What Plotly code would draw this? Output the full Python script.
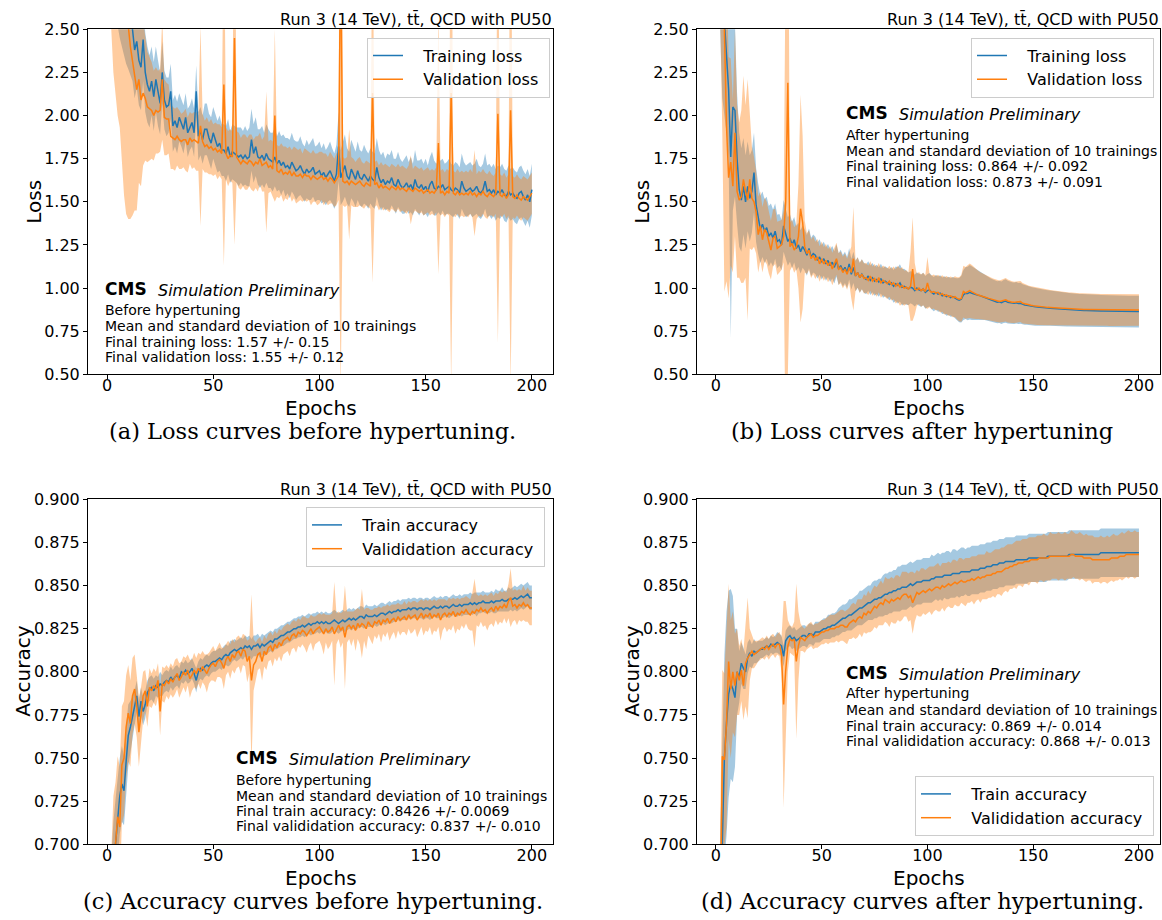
import plotly.graph_objects as go

W, H = 1162, 920
EPOCHS = list(range(1, 201))

# ---------------- (a) loss before hypertuning, units of 0.01 ----------------
A_TRAIN_MEAN = [
    420, 370, 340, 318, 302, 290, 282, 275, 268, 262,
    255, 250, 238, 243, 232, 228, 244, 225, 218, 214,
    220, 211, 221, 213, 207, 225, 209, 205, 206, 214,
    194, 197, 193, 199, 196, 192, 199, 190, 193, 196,
    190, 214, 188, 191, 186, 192, 192, 187, 184, 190,
    186, 182, 184, 180, 180, 178, 182, 176, 179, 178,
    177, 176, 177, 175, 177, 175, 176, 186, 178, 182,
    176, 175, 177, 174, 178, 175, 174, 173, 176, 172,
    174, 171, 173, 170, 171, 169, 173, 170, 168, 169,
    171, 168, 166, 169, 167, 168, 170, 166, 167, 168,
    165, 167, 164, 166, 168, 165, 162, 166, 182, 164,
    167, 171, 165, 163, 169, 166, 163, 168, 164, 163,
    166, 164, 162, 165, 163, 162, 170, 164, 161, 163,
    160, 162, 161, 164, 160, 159, 163, 160, 158, 159,
    161, 158, 160, 157, 163, 159, 158, 160, 157, 159,
    156, 160, 162, 158, 157, 159, 158, 160, 157, 158,
    159, 157, 156, 158, 157, 155, 162, 158, 156, 157,
    158, 156, 157, 159, 156, 155, 157, 162, 156, 157,
    155, 157, 154, 156, 155, 157, 154, 153, 156, 154,
    155, 153, 152, 155, 156, 153, 151, 154, 150, 157,
]
A_TRAIN_STD = [
    80, 70, 60, 55, 50, 45, 42, 40, 38, 35,
    32, 30, 28, 27, 26, 25, 24, 23, 22, 21,
    20, 20, 19, 19, 18, 18, 17, 17, 16, 16,
    15, 15, 15, 14, 14, 14, 14, 14, 13, 14,
    14, 15, 14, 14, 14, 15, 15, 14, 15, 15,
    15, 15, 16, 15, 15, 16, 16, 15, 16, 16,
    16, 17, 16, 16, 17, 16, 17, 18, 17, 17,
    16, 17, 17, 16, 17, 17, 16, 17, 17, 16,
    17, 17, 16, 17, 16, 17, 17, 16, 17, 16,
    17, 16, 16, 17, 16, 17, 17, 16, 16, 17,
    16, 17, 16, 16, 17, 16, 16, 17, 20, 16,
    17, 18, 16, 16, 17, 16, 16, 17, 16, 16,
    17, 16, 16, 16, 16, 16, 17, 16, 16, 16,
    15, 16, 16, 16, 15, 16, 16, 15, 15, 16,
    16, 15, 16, 15, 17, 15, 16, 15, 15, 16,
    15, 16, 17, 16, 15, 15, 16, 15, 15, 15,
    16, 15, 15, 15, 15, 15, 16, 15, 15, 15,
    15, 15, 15, 16, 15, 15, 15, 16, 15, 15,
    15, 15, 15, 15, 15, 15, 15, 15, 15, 15,
    15, 15, 15, 15, 15, 15, 15, 15, 15, 15,
]
A_VAL_MEAN = [
    400, 350, 320, 300, 288, 278, 270, 264, 258, 252,
    240, 232, 225, 215, 221, 209, 213, 210, 205, 204,
    203, 200, 203, 202, 203, 221, 199, 198, 198, 188,
    187, 186, 188, 186, 185, 186, 186, 183, 187, 185,
    186, 185, 184, 194, 185, 182, 183, 181, 182, 180,
    181, 179, 180, 178, 218, 178, 175, 177, 176, 245,
    176, 174, 172, 174, 173, 172, 174, 173, 171, 173,
    172, 175, 171, 172, 173, 170, 171, 169, 200, 168,
    167, 169, 166, 167, 166, 168, 165, 167, 165, 165,
    166, 164, 166, 165, 165, 163, 165, 164, 163, 164,
    165, 163, 164, 162, 164, 163, 161, 163, 165, 300,
    162, 161, 162, 160, 162, 161, 160, 161, 162, 160,
    159, 161, 160, 159, 213, 160, 161, 158, 160, 158,
    159, 158, 157, 159, 158, 157, 159, 157, 158, 157,
    156, 158, 157, 156, 158, 157, 156, 157, 155, 156,
    157, 155, 156, 155, 157, 184, 155, 156, 154, 156,
    155, 213, 155, 154, 156, 154, 155, 154, 155, 154,
    156, 154, 155, 153, 155, 154, 156, 154, 153, 155,
    154, 153, 155, 201, 154, 153, 155, 152, 154, 203,
    153, 152, 154, 152, 151, 153, 152, 151, 153, 155,
]
A_VAL_STD = [
    110, 100, 95, 90, 88, 85, 100, 110, 115, 112,
    100, 90, 80, 70, 60, 50, 42, 36, 32, 30,
    28, 26, 25, 24, 24, 35, 22, 21, 20, 19,
    18, 18, 17, 17, 16, 16, 18, 16, 15, 16,
    16, 17, 16, 58, 16, 15, 16, 15, 16, 15,
    15, 16, 15, 15, 105, 15, 16, 15, 15, 120,
    15, 16, 15, 15, 16, 15, 15, 16, 15, 15,
    16, 15, 15, 16, 41, 15, 15, 16, 50, 15,
    15, 15, 16, 15, 15, 14, 15, 15, 16, 15,
    15, 14, 15, 15, 14, 15, 15, 14, 15, 15,
    14, 15, 14, 14, 15, 14, 14, 15, 14, 260,
    14, 14, 14, 32, 14, 14, 13, 14, 14, 13,
    13, 13, 13, 13, 110, 13, 13, 13, 13, 13,
    13, 13, 13, 13, 13, 13, 13, 13, 13, 13,
    13, 13, 20, 13, 13, 13, 13, 13, 13, 13,
    13, 13, 13, 13, 13, 76, 13, 13, 13, 13,
    13, 170, 13, 13, 13, 13, 13, 13, 13, 13,
    13, 13, 25, 13, 13, 13, 13, 13, 13, 13,
    12, 12, 12, 133, 12, 12, 12, 12, 12, 160,
    12, 12, 12, 12, 12, 12, 12, 12, 12, 12,
]

# ---------------- (b) loss after hypertuning, units of 0.001 ----------------
B_TRAIN_MEAN = [
    5000, 3500, 2800, 2550, 2350, 2150, 1760, 2050, 2030, 1750,
    1570, 1510, 1590, 1500, 1590, 1520, 1560, 1670, 1480, 1400,
    1340, 1370, 1330, 1350, 1300, 1320, 1290, 1330, 1270, 1280,
    1250, 1360, 1310, 1270, 1290, 1250, 1280, 1230, 1250, 1210,
    1240, 1220, 1190, 1230, 1180, 1200, 1190, 1160, 1180, 1150,
    1170, 1140, 1160, 1130, 1150, 1120, 1160, 1110, 1130, 1100,
    1120, 1090, 1140, 1080, 1120, 1070, 1090, 1060, 1080, 1060,
    1050, 1070, 1045, 1060, 1040, 1050, 1035, 1055, 1030, 1040,
    1030, 1020, 1030, 1010, 1025, 1015, 1030, 1005, 1010, 1000,
    995, 1005, 1000, 985, 1000, 990, 985, 995, 975, 985,
    990, 975, 965, 975, 965, 970, 955, 960, 950, 955,
    945, 950, 940, 935, 930, 935, 960, 970, 968, 975,
    970, 965, 962, 958, 955, 950, 945, 940, 935, 930,
    925, 922, 918, 920, 915, 922, 925, 918, 915, 912,
    912, 915, 910, 912, 905, 902, 900, 897, 895, 893,
    891, 890, 888, 887, 886, 885, 884, 883, 882, 881,
    880, 879, 878, 877, 876, 875, 874, 873, 872, 872,
    871, 871, 870, 870, 870, 869, 869, 869, 868, 868,
    868, 867, 867, 867, 866, 866, 866, 865, 865, 865,
    865, 864, 864, 864, 864, 863, 863, 863, 864, 864,
]
B_TRAIN_STD = [
    1500, 1000, 700, 550, 450, 400, 1050, 600, 500, 380,
    330, 300, 280, 270, 260, 250, 240, 230, 215, 205,
    195, 190, 185, 180, 175, 170, 165, 160, 155, 150,
    145, 150, 145, 140, 138, 135, 132, 130, 128, 125,
    122, 120, 118, 115, 112, 110, 108, 105, 103, 100,
    98, 97, 96, 95, 94, 93, 93, 92, 92, 91,
    91, 90, 90, 89, 90, 88, 88, 87, 87, 87,
    86, 86, 86, 85, 85, 85, 85, 86, 86, 87,
    88, 90, 92, 95, 100, 105, 108, 106, 102, 98,
    95, 93, 95, 92, 92, 93, 94, 94, 95, 96,
    97, 98, 99, 100, 102, 104, 106, 108, 110, 111,
    112, 114, 118, 122, 128, 135, 145, 150, 155, 158,
    155, 150, 145, 140, 136, 132, 130, 128, 126, 125,
    124, 123, 122, 122, 123, 125, 126, 124, 122, 121,
    120, 120, 119, 119, 117, 115, 113, 112, 111, 110,
    109, 108, 107, 106, 105, 104, 103, 102, 102, 101,
    100, 100, 99, 99, 98, 98, 97, 97, 96, 96,
    96, 95, 95, 95, 95, 94, 94, 94, 94, 94,
    93, 93, 93, 93, 93, 93, 93, 93, 93, 92,
    92, 92, 92, 92, 92, 92, 92, 92, 92, 92,
]
B_VAL_MEAN = [
    5500, 3800, 2900, 2500, 1940, 1640, 1730, 1590, 1900, 1560,
    1510, 1530, 1630, 1560, 1510, 1630, 1520, 1500, 1440, 1310,
    1360, 1280, 1340, 1320, 1260, 1220, 1290, 1300, 1230, 1240,
    1250, 1300, 1500, 2190, 1240, 1260, 1220, 1240, 1300, 1460,
    1380, 1240, 1200, 1220, 1170, 1190, 1160, 1180, 1140, 1170,
    1140, 1160, 1130, 1150, 1110, 1140, 1170, 1110, 1120, 1090,
    1110, 1080, 1120, 1090, 1170, 1070, 1090, 1060, 1080, 1055,
    1060, 1045, 1070, 1040, 1055, 1035, 1060, 1030, 1045, 1035,
    1025, 1040, 1020, 1030, 1010, 1025, 1005, 1015, 1000, 1005,
    995, 1010, 1110, 995, 990, 1000, 985, 995, 980, 1030,
    985, 975, 980, 970, 975, 962, 968, 955, 960, 950,
    955, 945, 950, 940, 935, 940, 980, 972, 978, 985,
    978, 970, 965, 960, 955, 952, 948, 944, 940, 936,
    932, 928, 925, 922, 925, 930, 932, 925, 920, 918,
    917, 918, 920, 922, 912, 908, 905, 902, 900, 898,
    896, 894, 892, 891, 890, 889, 888, 887, 886, 885,
    884, 883, 882, 881, 880, 879, 878, 878, 877, 877,
    876, 876, 876, 875, 875, 875, 874, 874, 874, 874,
    873, 873, 873, 873, 873, 872, 872, 872, 872, 872,
    872, 872, 873, 873, 873, 873, 873, 873, 873, 873,
]
B_VAL_STD = [
    1600, 1200, 1000, 1520, 900, 700, 600, 500, 600, 500,
    450, 500, 600, 500, 700, 400, 300, 260, 240, 220,
    200, 190, 185, 180, 175, 170, 165, 160, 155, 150,
    145, 150, 1500, 1700, 140, 135, 132, 130, 300, 660,
    500, 150, 118, 115, 112, 110, 108, 105, 103, 100,
    98, 97, 96, 95, 94, 93, 93, 92, 92, 91,
    91, 90, 90, 150, 300, 88, 88, 87, 87, 87,
    86, 86, 86, 85, 85, 85, 85, 86, 86, 87,
    88, 90, 92, 95, 100, 105, 108, 106, 102, 98,
    95, 200, 300, 150, 92, 93, 94, 94, 95, 150,
    97, 98, 99, 100, 102, 104, 106, 108, 110, 111,
    112, 114, 118, 122, 128, 135, 150, 150, 155, 158,
    155, 150, 145, 140, 136, 132, 130, 128, 126, 125,
    124, 123, 122, 122, 123, 125, 126, 124, 122, 121,
    120, 120, 119, 119, 117, 115, 113, 112, 111, 110,
    109, 108, 107, 106, 105, 104, 103, 102, 101, 100,
    99, 99, 98, 98, 97, 97, 96, 96, 95, 95,
    95, 94, 94, 94, 94, 93, 93, 93, 93, 93,
    92, 92, 92, 92, 92, 92, 92, 92, 92, 91,
    91, 91, 91, 91, 91, 91, 91, 91, 91, 91,
]

# ---------------- (c) accuracy before hypertuning, units of 0.001 ----------------
C_TRAIN_MEAN = [
    640, 665, 685, 700, 715, 728, 735, 731, 748, 763,
    768, 774, 779, 786, 774, 783, 777, 781, 788, 790,
    791, 789, 792, 791, 793, 792, 794, 795, 794, 797,
    795, 797, 798, 796, 800, 799, 801, 799, 800, 802,
    799, 795, 800, 802, 801, 803, 804, 803, 805, 806,
    806, 807, 808, 807, 809, 810, 809, 811, 812, 813,
    812, 813, 814, 813, 815, 814, 815, 813, 815, 815,
    816, 814, 816, 815, 816, 817, 818, 817, 819, 819,
    820, 821, 821, 822, 823, 823, 824, 825, 825, 826,
    826, 827, 826, 827, 828, 827, 828, 828, 829, 828,
    829, 828, 829, 828, 828, 829, 830, 829, 828, 829,
    830, 829, 830, 831, 830, 831, 830, 831, 832, 832,
    831, 833, 832, 832, 832, 833, 832, 833, 834, 834,
    833, 834, 835, 834, 835, 835, 836, 835, 836, 836,
    836, 837, 836, 837, 837, 836, 837, 837, 836, 837,
    837, 836, 837, 838, 837, 837, 838, 837, 838, 838,
    837, 838, 839, 838, 838, 839, 838, 839, 839, 839,
    840, 839, 840, 839, 840, 840, 841, 840, 840, 840,
    841, 840, 841, 841, 841, 842, 841, 841, 842, 842,
    842, 843, 842, 843, 844, 843, 844, 845, 843, 843,
]
C_TRAIN_STD = [
    30, 30, 28, 26, 24, 22, 22, 20, 20, 18,
    15, 12, 10, 9, 9, 8, 8, 8, 7, 7,
    7, 7, 6, 6, 7, 6, 6, 6, 6, 6,
    6, 6, 6, 6, 6, 6, 6, 6, 6, 6,
    6, 7, 6, 6, 6, 6, 6, 6, 6, 6,
    6, 6, 6, 6, 6, 6, 6, 7, 6, 6,
    6, 6, 6, 6, 6, 6, 6, 6, 6, 6,
    6, 6, 6, 6, 6, 6, 6, 6, 6, 6,
    6, 6, 6, 6, 6, 6, 6, 6, 6, 6,
    6, 6, 6, 6, 6, 6, 6, 6, 6, 6,
    6, 6, 6, 6, 6, 6, 6, 6, 6, 6,
    6, 6, 6, 6, 6, 6, 6, 6, 6, 6,
    6, 6, 6, 6, 6, 6, 6, 6, 6, 6,
    6, 6, 6, 6, 6, 6, 6, 6, 6, 6,
    6, 6, 6, 6, 6, 6, 6, 6, 6, 6,
    6, 6, 6, 6, 6, 6, 6, 6, 6, 6,
    6, 6, 6, 6, 6, 6, 6, 6, 6, 6,
    6, 6, 6, 7, 6, 6, 6, 6, 6, 6,
    6, 6, 7, 6, 6, 7, 6, 6, 7, 6,
    7, 7, 7, 7, 7, 7, 7, 7, 7, 7,
]
C_VAL_MEAN = [
    620, 660, 690, 700, 716, 710, 746, 750, 768, 776,
    770, 786, 790, 780, 765, 775, 786, 789, 780, 791,
    789, 792, 790, 795, 777, 793, 792, 795, 793, 796,
    794, 797, 799, 795, 797, 800, 798, 801, 796, 798,
    801, 799, 802, 800, 803, 801, 799, 802, 804, 805,
    803, 806, 807, 805, 802, 807, 809, 806, 810, 808,
    811, 812, 809, 813, 812, 806, 809, 795, 804, 806,
    810, 811, 806, 812, 810, 814, 815, 812, 816, 814,
    817, 815, 818, 819, 820, 818, 821, 822, 820, 823,
    822, 824, 823, 821, 823, 825, 822, 824, 825, 826,
    824, 822, 825, 823, 824, 826, 822, 825, 827, 824,
    826, 820, 826, 827, 825, 827, 824, 828, 826, 828,
    827, 825, 829, 827, 826, 829, 828, 830, 827, 830,
    829, 831, 828, 830, 831, 829, 832, 830, 831, 832,
    830, 833, 831, 832, 833, 830, 832, 834, 831, 833,
    832, 834, 831, 833, 832, 834, 830, 833, 834, 832,
    834, 833, 835, 832, 834, 833, 835, 834, 836, 834,
    833, 835, 834, 836, 835, 837, 835, 836, 834, 836,
    837, 835, 838, 836, 838, 837, 839, 837, 841, 843,
    838, 839, 837, 839, 838, 840, 838, 839, 837, 837,
]
C_VAL_STD = [
    40, 40, 38, 36, 35, 35, 34, 33, 30, 28,
    25, 22, 20, 18, 20, 16, 14, 12, 12, 11,
    10, 10, 10, 10, 14, 10, 10, 9, 9, 9,
    9, 10, 9, 10, 9, 9, 10, 9, 11, 9,
    10, 9, 9, 10, 9, 9, 11, 9, 9, 10,
    9, 9, 10, 9, 12, 9, 9, 10, 9, 9,
    9, 9, 10, 9, 9, 12, 10, 50, 15, 11,
    9, 9, 11, 9, 9, 8, 8, 9, 8, 8,
    8, 9, 8, 8, 8, 9, 8, 8, 9, 8,
    8, 8, 9, 10, 8, 8, 10, 8, 8, 8,
    9, 12, 8, 10, 9, 8, 30, 9, 8, 10,
    9, 30, 9, 8, 10, 8, 12, 9, 10, 20,
    9, 12, 8, 9, 10, 8, 9, 8, 10, 8,
    9, 8, 10, 9, 8, 10, 8, 9, 8, 9,
    9, 8, 9, 9, 8, 10, 9, 8, 10, 9,
    9, 8, 10, 9, 9, 8, 12, 9, 8, 9,
    9, 9, 8, 10, 9, 9, 8, 9, 8, 9,
    9, 11, 20, 9, 9, 8, 9, 9, 10, 9,
    9, 9, 8, 9, 9, 9, 8, 9, 10, 17,
    9, 9, 10, 9, 9, 10, 9, 10, 10, 10,
]

# ---------------- (d) accuracy after hypertuning, units of 0.001 ----------------
D_TRAIN_MEAN = [
    600, 650, 700, 750, 770, 787, 793, 790, 785, 800,
    797, 805, 802, 800, 808, 811, 809, 812, 811, 812,
    813, 813, 814, 815, 814, 816, 815, 816, 817, 816,
    815, 809, 818, 820, 821, 819, 820, 818, 819, 820,
    821, 821, 820, 822, 822, 821, 823, 823, 823, 824,
    825, 825, 826, 826, 827, 827, 828, 829, 830, 831,
    831, 832, 833, 833, 834, 835, 836, 837, 837, 838,
    839, 840, 840, 841, 842, 842, 843, 843, 844, 845,
    845, 846, 846, 847, 847, 848, 848, 849, 849, 849,
    850, 851, 850, 851, 852, 852, 852, 853, 853, 853,
    853, 854, 854, 855, 855, 855, 855, 856, 856, 856,
    856, 857, 857, 857, 857, 858, 858, 858, 858, 858,
    859, 859, 859, 859, 860, 860, 860, 861, 861, 861,
    862, 862, 862, 863, 863, 863, 864, 864, 864, 864,
    864, 865, 865, 865, 865, 865, 865, 866, 866, 866,
    866, 866, 866, 866, 866, 866, 867, 867, 867, 867,
    867, 867, 867, 867, 867, 867, 868, 868, 868, 868,
    868, 868, 868, 868, 868, 868, 868, 868, 868, 868,
    868, 869, 869, 869, 869, 869, 869, 869, 869, 869,
    869, 869, 869, 869, 869, 869, 869, 869, 869, 869,
]
D_TRAIN_STD = [
    50, 50, 55, 60, 65, 60, 55, 54, 40, 25,
    15, 12, 12, 10, 9, 8, 7, 7, 6, 6,
    5, 5, 5, 5, 5, 5, 5, 5, 6, 6,
    6, 6, 6, 6, 6, 6, 6, 6, 6, 6,
    6, 6, 6, 6, 6, 6, 6, 6, 6, 6,
    6, 6, 7, 7, 7, 7, 7, 8, 8, 8,
    8, 8, 9, 9, 9, 9, 9, 10, 10, 10,
    10, 10, 10, 11, 11, 11, 11, 11, 12, 12,
    12, 12, 12, 12, 12, 13, 13, 13, 13, 13,
    13, 13, 13, 13, 13, 13, 13, 13, 13, 13,
    13, 14, 13, 13, 14, 13, 14, 13, 14, 14,
    13, 14, 14, 13, 14, 14, 14, 13, 14, 14,
    14, 14, 14, 14, 14, 14, 14, 14, 14, 14,
    14, 14, 14, 14, 14, 14, 14, 14, 14, 14,
    14, 14, 14, 14, 14, 14, 14, 14, 14, 14,
    14, 14, 14, 14, 14, 14, 14, 14, 14, 14,
    14, 14, 14, 14, 14, 14, 14, 14, 14, 14,
    14, 14, 14, 14, 14, 14, 14, 14, 14, 14,
    14, 14, 14, 14, 14, 14, 14, 14, 14, 14,
    14, 14, 14, 14, 14, 14, 14, 14, 14, 14,
]
D_VAL_MEAN = [
    560, 640, 751, 749, 770, 806, 790, 800, 792, 800,
    795, 801, 792, 805, 808, 810, 812, 810, 811, 812,
    813, 814, 813, 815, 813, 815, 816, 814, 816, 816,
    810, 781, 801, 815, 819, 818, 819, 806, 815, 820,
    819, 818, 820, 821, 822, 820, 821, 821, 822, 823,
    823, 824, 824, 825, 825, 825, 826, 826, 827, 827,
    826, 826, 828, 829, 830, 829, 831, 832, 831, 834,
    833, 835, 834, 836, 838, 837, 839, 840, 839, 842,
    841, 840, 842, 841, 842, 843, 842, 844, 845, 845,
    843, 844, 840, 843, 846, 845, 846, 847, 846, 847,
    848, 847, 848, 849, 849, 848, 850, 849, 850, 851,
    850, 851, 852, 851, 852, 853, 852, 852, 853, 853,
    854, 853, 854, 855, 854, 855, 855, 856, 856, 856,
    857, 857, 858, 858, 858, 859, 860, 860, 861, 861,
    862, 862, 863, 863, 863, 864, 864, 864, 865, 865,
    865, 865, 866, 866, 866, 866, 866, 867, 867, 867,
    867, 867, 867, 867, 867, 867, 867, 868, 868, 867,
    867, 867, 867, 866, 866, 866, 866, 865, 865, 865,
    865, 865, 865, 865, 865, 865, 866, 866, 866, 866,
    867, 867, 867, 868, 868, 868, 868, 868, 868, 868,
]
D_VAL_STD = [
    60, 60, 50, 50, 60, 45, 40, 35, 30, 25,
    20, 18, 20, 25, 35, 15, 10, 8, 7, 6,
    6, 6, 6, 6, 6, 6, 6, 6, 6, 7,
    10, 60, 40, 15, 8, 8, 10, 45, 20, 8,
    7, 7, 7, 7, 7, 7, 7, 7, 7, 7,
    7, 7, 8, 8, 8, 8, 8, 9, 9, 9,
    9, 10, 9, 10, 10, 10, 11, 10, 11, 11,
    11, 12, 11, 12, 12, 12, 12, 13, 12, 13,
    13, 14, 13, 13, 14, 13, 13, 14, 13, 13,
    14, 14, 18, 14, 13, 13, 14, 13, 13, 13,
    13, 14, 13, 13, 14, 13, 13, 14, 13, 13,
    13, 14, 13, 13, 14, 13, 13, 14, 13, 13,
    13, 14, 13, 13, 14, 13, 13, 14, 13, 13,
    13, 14, 13, 13, 14, 13, 13, 14, 13, 13,
    13, 14, 13, 13, 14, 13, 13, 14, 13, 13,
    13, 14, 13, 13, 14, 13, 13, 14, 13, 13,
    13, 14, 13, 13, 14, 13, 13, 14, 13, 13,
    13, 14, 13, 13, 14, 13, 13, 14, 13, 13,
    13, 14, 13, 13, 14, 13, 13, 14, 13, 13,
    13, 14, 13, 13, 14, 13, 13, 14, 13, 13,
]

LOSS_TICKS = [0.5, 0.75, 1.0, 1.25, 1.5, 1.75, 2.0, 2.25, 2.5]
ACC_TICKS = [0.7, 0.725, 0.75, 0.775, 0.8, 0.825, 0.85, 0.875, 0.9]
EPOCH_TICKS = [0, 50, 100, 150, 200]
TOP_LABEL = "Run 3 (14 TeV), tt\u0304, QCD with PU50"
INFO_MID = "Mean and standard deviation of 10 trainings"

SANS = "DejaVu Sans"
SERIF = "DejaVu Serif"
BLUE = "#1f77b4"
ORANGE = "#ff7f0e"
BLUE_FILL = "rgba(31,119,180,0.4)"
ORANGE_FILL = "rgba(255,127,14,0.4)"
NB = "\u00a0"

panels = [
    dict(tm=A_TRAIN_MEAN, ts=A_TRAIN_STD, vm=A_VAL_MEAN, vs=A_VAL_STD, scale=0.01,
         box=(88, 553, 29.3, 374.3), yr=[0.5, 2.5], yt=LOSS_TICKS, fmt=".2f",
         ylabel="Loss", ylab_x=34, names=("Training loss", "Validation loss"),
         leg=dict(x=550, y=37.5, yanchor="top"),
         cms=(104, 289), info_y=[310, 326, 342, 357],
         info=["Before hypertuning", INFO_MID,
               "Final training loss: 1.57 +/- 0.15", "Final validation loss: 1.55 +/- 0.12"],
         caption=("(a) Loss curves before hypertuning.", 312, 431)),
    dict(tm=B_TRAIN_MEAN, ts=B_TRAIN_STD, vm=B_VAL_MEAN, vs=B_VAL_STD, scale=0.001,
         box=(697, 1160, 29.3, 374.3), yr=[0.5, 2.5], yt=LOSS_TICKS, fmt=".2f",
         ylabel="Loss", ylab_x=642, names=("Training loss", "Validation loss"),
         leg=dict(x=1154, y=37.5, yanchor="top"),
         cms=(845, 113), info_y=[135, 151, 166, 182],
         info=["After hypertuning", INFO_MID,
               "Final training loss: 0.864 +/- 0.092", "Final validation loss: 0.873 +/- 0.091"],
         caption=("(b) Loss curves after hypertuning", 922, 431)),
    dict(tm=C_TRAIN_MEAN, ts=C_TRAIN_STD, vm=C_VAL_MEAN, vs=C_VAL_STD, scale=0.001,
         box=(88, 553, 499.3, 844.3), yr=[0.7, 0.9], yt=ACC_TICKS, fmt=".3f",
         ylabel="Accuracy", ylab_x=23, names=("Train accuracy", "Valididation accuracy"),
         leg=dict(x=545, y=507, yanchor="top"),
         cms=(235, 758), info_y=[780, 796, 811, 826],
         info=["Before hypertuning", INFO_MID,
               "Final train accuracy: 0.8426 +/- 0.0069", "Final valididation accuracy: 0.837 +/- 0.010"],
         caption=("(c) Accuracy curves before hypertuning.", 313, 901)),
    dict(tm=D_TRAIN_MEAN, ts=D_TRAIN_STD, vm=D_VAL_MEAN, vs=D_VAL_STD, scale=0.001,
         box=(697, 1160, 499.3, 844.3), yr=[0.7, 0.9], yt=ACC_TICKS, fmt=".3f",
         ylabel="Accuracy", ylab_x=632, names=("Train accuracy", "Valididation accuracy"),
         leg=dict(x=1154, y=836, yanchor="bottom"),
         cms=(845, 673), info_y=[693, 710, 726, 741],
         info=["After hypertuning", INFO_MID,
               "Final train accuracy: 0.869 +/- 0.014", "Final valididation accuracy: 0.868 +/- 0.013"],
         caption=("(d) Accuracy curves after hypertuning.", 922, 901)),
]

for p in panels:
    for k in ("tm", "ts", "vm", "vs"):
        if len(p[k]) != len(EPOCHS):
            raise ValueError(f"{p['caption'][0]} {k} has {len(p[k])} values")


def fx(x):
    return x / W


def fy(y):
    return 1 - y / H


def ann(x, y, text, size, family=SANS, xanchor="left", yanchor="middle", angle=0):
    return dict(x=fx(x), y=fy(y), xref="paper", yref="paper", text=text, showarrow=False,
                xanchor=xanchor, yanchor=yanchor, textangle=angle, borderpad=0,
                font=dict(family=family, size=size, color="black"))


fig = go.Figure()
layout = dict(width=W, height=H, autosize=False, margin=dict(l=0, r=0, t=0, b=0, pad=0),
              paper_bgcolor="white", plot_bgcolor="white",
              font=dict(family=SANS, size=16, color="black"), showlegend=True)
annotations = []

for i, p in enumerate(panels):
    n = "" if i == 0 else str(i + 1)
    xa, ya = "x" + n, "y" + n
    leg = "legend" + n
    s = p["scale"]
    tm = [v * s for v in p["tm"]]
    ts = [v * s for v in p["ts"]]
    vm = [v * s for v in p["vm"]]
    vs = [v * s for v in p["vs"]]

    for mean, std, fill in ((tm, ts, BLUE_FILL), (vm, vs, ORANGE_FILL)):
        up = [m + d for m, d in zip(mean, std)]
        lo = [m - d for m, d in zip(mean, std)]
        fig.add_trace(go.Scatter(x=EPOCHS, y=up, mode="lines", line=dict(width=0),
                                 showlegend=False, hoverinfo="skip", xaxis=xa, yaxis=ya,
                                 legend=leg))
        fig.add_trace(go.Scatter(x=EPOCHS, y=lo, mode="lines", line=dict(width=0),
                                 fill="tonexty", fillcolor=fill, showlegend=False,
                                 hoverinfo="skip", xaxis=xa, yaxis=ya, legend=leg))
    fig.add_trace(go.Scatter(x=EPOCHS, y=tm, mode="lines", name=NB * 3 + p["names"][0] + NB,
                             line=dict(color=BLUE, width=1.5), xaxis=xa, yaxis=ya, legend=leg))
    fig.add_trace(go.Scatter(x=EPOCHS, y=vm, mode="lines", name=NB * 3 + p["names"][1] + NB,
                             line=dict(color=ORANGE, width=1.5), xaxis=xa, yaxis=ya, legend=leg))

    x0, x1, y0, y1 = p["box"]
    axis_common = dict(showline=True, linecolor="black", linewidth=1, mirror=True,
                       showgrid=False, zeroline=False, ticks="outside", ticklen=4,
                       tickwidth=1, tickcolor="black", automargin=False,
                       tickfont=dict(family=SANS, size=16, color="black"))
    layout["xaxis" + n] = dict(domain=[fx(x0), fx(x1)], range=[-8.95, 209.95],
                               tickvals=EPOCH_TICKS, anchor=ya, ticklabelstandoff=-8,
                               **axis_common)
    layout["yaxis" + n] = dict(domain=[fy(y1), fy(y0)], range=p["yr"], tickvals=p["yt"],
                               tickformat=p["fmt"], anchor=xa, **axis_common)
    lg = p["leg"]
    layout[leg] = dict(x=fx(lg["x"]), y=fy(lg["y"]), xanchor="right", yanchor=lg["yanchor"],
                       traceorder="normal",
                       bgcolor="rgba(255,255,255,0.8)", bordercolor="#cccccc", borderwidth=1,
                       font=dict(family=SANS, size=16, color="black"))

    # texts
    annotations.append(ann(x1, y0 - 10, TOP_LABEL, 16, xanchor="right"))
    annotations.append(ann((x0 + x1) / 2, y1 + 34, "Epochs", 20, xanchor="center"))
    annotations.append(ann(p["ylab_x"], (y0 + y1) / 2, p["ylabel"], 20,
                           xanchor="center", angle=-90))
    cx, cy = p["cms"]
    annotations.append(ann(cx, cy, "<b>CMS</b>", 17))
    annotations.append(ann(cx + 53, cy + 1, "<i>Simulation Preliminary</i>", 16))
    for ty, t in zip(p["info_y"], p["info"]):
        annotations.append(ann(cx, ty, t, 14))
    cap, capx, capy = p["caption"]
    annotations.append(ann(capx, capy, cap, 22.5, family=SERIF, xanchor="center"))

layout["annotations"] = annotations
fig.update_layout(**layout)
fig.write_html(
    "out.html",
    config={"displayModeBar": False},
    post_script="document.body.style.margin='0px';document.body.style.overflow='hidden';",
)
